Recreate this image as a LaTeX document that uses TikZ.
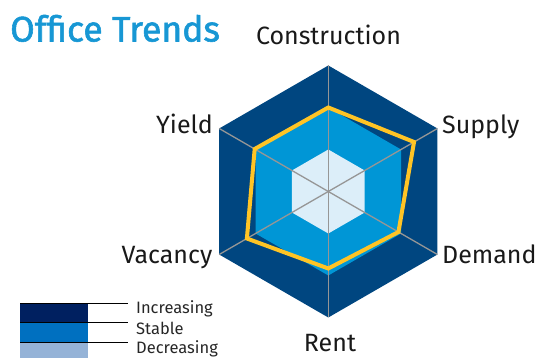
\documentclass[tikz,border=0pt]{standalone}
\usepackage{fontspec}
\setmainfont{Fira Sans}
\newfontfamily\titlefont{Fira Sans}[FakeBold=1.6]
\usetikzlibrary{calc}
\definecolor{titleblue}{RGB}{23,151,212}
\definecolor{hexdark}{RGB}{0,70,128}
\definecolor{hexmid}{RGB}{0,150,214}
\definecolor{hexlight}{RGB}{220,238,249}
\definecolor{trend}{RGB}{255,196,37}
\definecolor{spoke}{RGB}{150,150,150}
\definecolor{legdark}{RGB}{0,32,96}
\definecolor{legmid}{RGB}{0,112,192}
\definecolor{leglight}{RGB}{149,179,215}
\tikzset{
  axislabel/.style={inner sep=0pt, font=\fontsize{25}{25}\selectfont, text=black!90},
  legtext/.style={inner sep=0pt, font=\fontsize{16.5}{17}\selectfont, text=black!85, anchor=west},
  legline/.style={black, line width=0.8pt},
}
\begin{document}
\begin{tikzpicture}[x=1pt,y=-1pt]
\useasboundingbox (0,0) rectangle (539,358);
\coordinate (c) at (328.3,191.5);
% outer hexagon
\fill[hexdark] (c) ++(90:126) -- ++(-30:126) -- ++(-90:126) -- ++(-150:126) -- ++(150:126) -- ++(90:126) -- cycle;
% mid hexagon
\fill[hexmid] (c) ++(90:84) -- ++(-30:84) -- ++(-90:84) -- ++(-150:84) -- ++(150:84) -- ++(90:84) -- cycle;
% inner hexagon
\fill[hexlight] (c) ++(90:42) -- ++(-30:42) -- ++(-90:42) -- ++(-150:42) -- ++(150:42) -- ++(90:42) -- cycle;
% spokes
\foreach \a/\n in {90/top,30/ur,-30/lr,-90/bot,-150/ll,150/ul}{
  \coordinate (v\n) at ($(c)+({126*cos(\a)},{-126*sin(\a)})$);
  \draw[spoke, line width=1.3pt] (c) -- (v\n);
}
% trend polygon
\coordinate (t1) at ($(c)+({84*cos(90)},{-84*sin(90)})$);
\coordinate (t2) at ($(c)+({99*cos(30)},{-99*sin(30)})$);
\coordinate (t3) at ($(c)+({81*cos(-30)},{-81*sin(-30)})$);
\coordinate (t4) at ($(c)+({77*cos(-90)},{-77*sin(-90)})$);
\coordinate (t5) at ($(c)+({94*cos(-150)},{-94*sin(-150)})$);
\coordinate (t6) at ($(c)+({85*cos(150)},{-85*sin(150)})$);
\draw[trend, line width=4pt, line join=miter] (t1) -- (t2) -- (t3) -- (t4) -- (t5) -- (t6) -- cycle;
% axis labels
\node[axislabel, anchor=base] (lc) at (328.5,45) {Construction};
\node[axislabel, anchor=base west] (ls) at (442,133.3) {Supply};
\node[axislabel, anchor=base west] (ld) at (442,263.3) {Demand};
\node[axislabel, anchor=base] (lr) at (330,352) {Rent};
\node[axislabel, anchor=base east] (lv) at (212.5,263.3) {Vacancy};
\node[axislabel, anchor=base east] (ly) at (213,133.3) {Yield};
% title
\node[inner sep=0pt, anchor=base west, text=titleblue, font=\fontsize{35.5}{36}\titlefont] (title) at (10,41.5) {Office Trends};
% legend
\fill[legdark] (20,303) rectangle (88,322.7);
\fill[legmid] (20,322.7) rectangle (88,342.7);
\fill[leglight] (20,342.7) rectangle (88,358);
\coordinate (l1a) at (20,303.3); \coordinate (l1b) at (128,303.3);
\coordinate (l2a) at (20,322.7); \coordinate (l2b) at (128,322.7);
\coordinate (l3a) at (20,342.7); \coordinate (l3b) at (128,342.7);
\draw[legline] (l1a) -- (l1b);
\draw[legline] (l2a) -- (l2b);
\draw[legline] (l3a) -- (l3b);
\node[legtext] (li) at (136,308.5) {Increasing};
\node[legtext] (lst) at (136,328) {Stable};
\node[legtext] (lde) at (136,348.5) {Decreasing};
\end{tikzpicture}
\end{document}
